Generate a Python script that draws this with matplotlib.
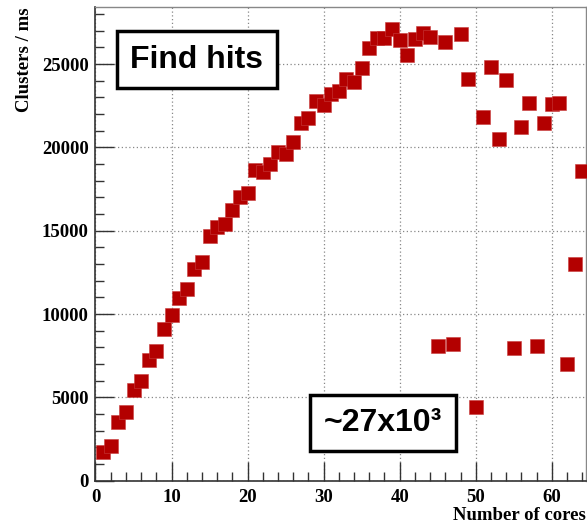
import matplotlib
matplotlib.use("Agg")
import matplotlib.pyplot as plt
from matplotlib.ticker import MultipleLocator

cores = list(range(1, 65))
clusters_per_ms = [
    1700, 2080, 3540, 4140, 5420, 6000, 7220, 7800, 9100, 9940,
    10940, 11520, 12700, 13140, 14680, 15240, 15380, 16240, 17040, 17280,
    18640, 18540, 19000, 19740, 19580, 20300, 21450, 21740, 22780, 22540,
    23180, 23380, 24120, 23940, 24780, 25940, 26540, 26540, 27080, 26420,
    25540, 26480, 26840, 26640, 8100, 26340, 8200, 26780, 24100, 4400,
    21840, 24820, 20480, 24060, 7980, 21240, 22680, 8100, 21440, 22620,
    22660, 7000, 13000, 18600,
]
x_label = "Number of cores"
y_label = "Clusters / ms"
title_box = "Find hits"
value_box = "~27x10³"

W, H = 587, 524
fig = plt.figure(figsize=(W / 100, H / 100), dpi=100)
ax = fig.add_axes([95.5 / W, (H - 480.7) / H, (586 - 95.5) / W, (480.7 - 7) / H])

ax.plot(cores, clusters_per_ms, linestyle="none", marker="s", ms=9.6,
        mfc="#b30000", mec="#c83c3c", mew=0.4, clip_on=True, zorder=3)

ax.set_xlim(0, 64.5)
ax.set_ylim(0, 28420)
ax.xaxis.set_major_locator(MultipleLocator(10))
ax.xaxis.set_minor_locator(MultipleLocator(2))
ax.yaxis.set_major_locator(MultipleLocator(5000))
ax.yaxis.set_minor_locator(MultipleLocator(1000))
ax.grid(True, which="major", linestyle=(0, (1, 2)), color="#888888", linewidth=0.9)
ax.set_axisbelow(True)

ax.tick_params(which="both", direction="in", top=False, right=False,
               color="#333333", width=1.0)
ax.tick_params(which="major", length=14, pad=5)
ax.tick_params(which="minor", length=6.5)
for sp in ["left", "bottom"]:
    ax.spines[sp].set_color("#333333")
    ax.spines[sp].set_linewidth(1.2)
for sp in ["top", "right"]:
    ax.spines[sp].set_color("#888888")
    ax.spines[sp].set_linewidth(1.0)

for lbl in ax.get_xticklabels() + ax.get_yticklabels():
    lbl.set_fontfamily("Liberation Serif")
    lbl.set_fontweight("bold")
    lbl.set_fontsize(13.5)
ax.tick_params(axis="x", pad=6)

fig.text(586 / W, 1 - 515 / H, x_label, ha="right", va="center",
         fontdict=dict(family="Liberation Serif", weight="bold", size=13.5))
fig.text(25 / W, 1 - 7 / H, y_label, ha="center", va="top", rotation=90,
         fontdict=dict(family="Liberation Serif", weight="bold", size=13.5))

fig.text(196.7 / W, 1 - 59.7 / H, title_box, ha="center", va="center",
         fontdict=dict(family="Liberation Sans", weight="bold", size=23),
         bbox=dict(boxstyle="square,pad=0.42", fc="white", ec="black", lw=2.5))
fig.text(383 / W, 1 - 423 / H, value_box, ha="center", va="center",
         fontdict=dict(family="Liberation Sans", weight="bold", size=23),
         bbox=dict(boxstyle="square,pad=0.42", fc="white", ec="black", lw=2.5))

fig.savefig("out.png", dpi=100)
